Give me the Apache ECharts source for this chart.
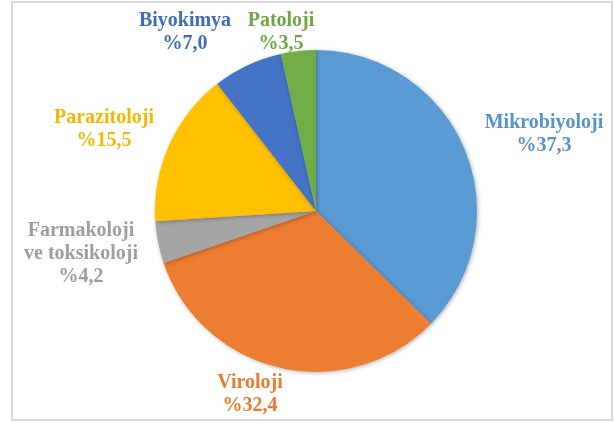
<!DOCTYPE html>
<html>
<head>
<meta charset="utf-8">
<script src="https://cdn.jsdelivr.net/npm/echarts@6/dist/echarts.min.js"></script>
<style>html,body{margin:0;padding:0;background:#fff}#c{width:614px;height:423px}</style>
</head>
<body>
<div id="c"></div>
<script>
var categories = ['Mikrobiyoloji', 'Viroloji', 'Farmakoloji\nve toksikoloji', 'Parazitoloji', 'Biyokimya', 'Patoloji'];
var values = [37.3, 32.4, 4.2, 15.5, 7.0, 3.5];
var colors = ['#5B9BD5', '#ED7D31', '#A5A5A5', '#FFC000', '#4472C4', '#70AD47'];
var labelColors = ['#5493D0', '#E97A30', '#9E9E9E', '#F5B800', '#3F6DBE', '#6BA843'];
var labelPos = [[544, 134], [250, 394], [81, 254], [104, 129], [185, 32], [281, 32]];

var chart = echarts.init(document.getElementById('c'));
chart.setOption({
  animation: false,
  graphic: [{
    type: 'rect',
    shape: { x: 12, y: 2, width: 600, height: 418 },
    style: { fill: 'none', stroke: '#D9D9D9', lineWidth: 2 }
  }],
  series: [{
    type: 'pie',
    center: [316, 211],
    radius: 161,
    startAngle: 90,
    clockwise: true,
    avoidLabelOverlap: false,
    data: categories.map(function (n, i) {
      return {
        name: n, value: values[i],
        itemStyle: { color: colors[i] },
        label: { color: labelColors[i] }
      };
    }),
    itemStyle: { borderWidth: 0, shadowBlur: 4, shadowColor: 'rgba(0,0,0,0.3)', shadowOffsetX: 1, shadowOffsetY: 1 },
    label: {
      show: true,
      position: 'outside',
      fontFamily: 'Liberation Serif',
      fontWeight: 'bold',
      fontSize: 20,
      lineHeight: 23,
      align: 'center',
      overflow: 'none',
      width: 200,
      formatter: function (p) { return p.name + '\n%' + p.value.toFixed(1).replace('.', ','); }
    },
    labelLine: { show: false },
    labelLayout: function (p) {
      var pos = labelPos[p.dataIndex];
      return { x: pos[0], y: pos[1], align: 'center', verticalAlign: 'middle' };
    }
  }]
});
</script>
</body>
</html>
